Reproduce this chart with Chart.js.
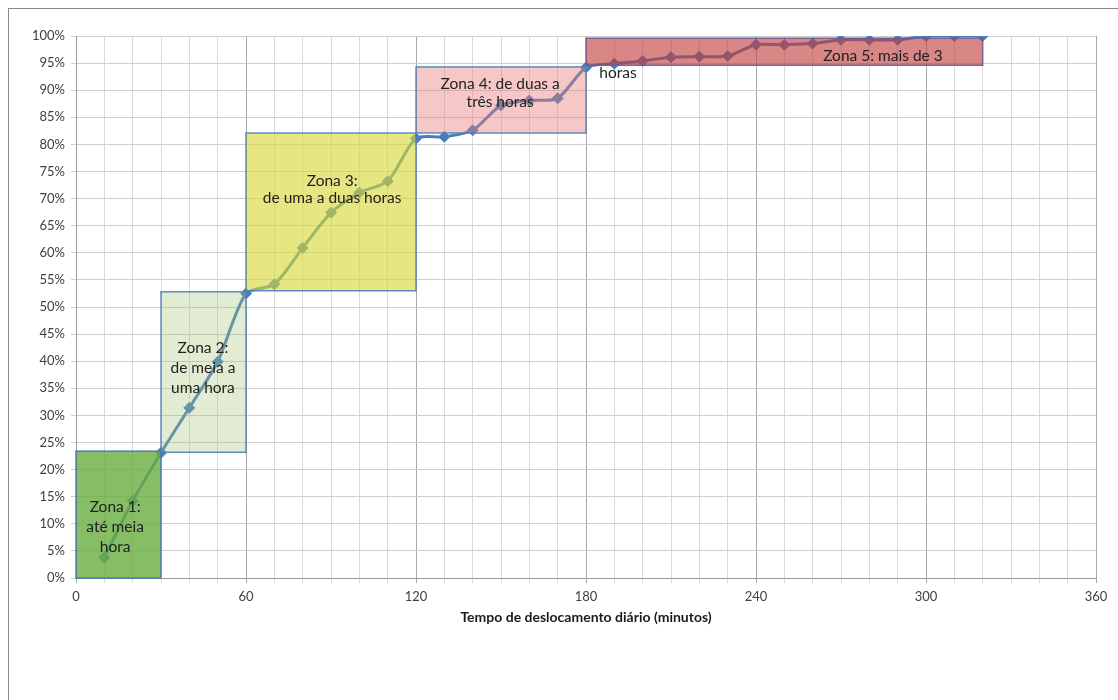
<!DOCTYPE html>
<html>
<head>
<meta charset="utf-8">
<script src="https://cdn.jsdelivr.net/npm/chart.js@4.4.1/dist/chart.umd.min.js"></script>
<style>
  html, body { margin: 0; padding: 0; background: #fff; }
  #wrap { position: relative; width: 1118px; height: 700px; overflow: hidden; }
  #frame { position: absolute; left: 8px; top: 8px; width: 1140px; height: 740px;
           border: 1.5px solid #8a8a8a; box-sizing: border-box; }
  #c { position: absolute; left: 0; top: 0; }
</style>
</head>
<body>
<div id="wrap">
  <div id="frame"></div>
  <canvas id="c" width="1118" height="700"></canvas>
</div>
<script>
// Daily commute time (minutes) and cumulative share of people (%)
const minutes = [10, 20, 30, 40, 50, 60, 70, 80, 90, 100, 110, 120, 130, 140, 150, 160,
                 170, 180, 190, 200, 210, 220, 230, 240, 250, 260, 270, 280, 290, 300, 310, 320];
const cumulativePct = [3.8, 14.2, 23.1, 31.4, 39.9, 52.5, 54.2, 60.9, 67.4, 71.1, 73.2, 81.1, 81.4, 82.6, 87.2, 88.1,
                       88.5, 94.2, 94.9, 95.4, 96.1, 96.2, 96.3, 98.4, 98.4, 98.6, 99.3, 99.3, 99.3, 100, 100, 100];

// Axis ticks
const xTickLabels = [0, 60, 120, 180, 240, 300, 360];
const yTickStep = 5;

// Zones: time range (minutes) and share range (%)
const zoneStart  = [0, 30, 60, 120, 180];
const zoneEnd    = [30, 60, 120, 180, 320];
const zoneBottom = [0, 23.2, 53.0, 82.1, 94.6];
const zoneTop    = [23.4, 52.8, 82.1, 94.3, 99.6];
const zoneText = [
  ['Zona 1:', 'até meia', 'hora'],
  ['Zona 2:', 'de meia a', 'uma hora'],
  ['Zona 3:', 'de uma a duas horas'],
  ['Zona 4: de duas a', 'três horas'],
  ['Zona 5: mais de 3']
];
const overflowText = 'horas';

// Drawing layout for the zones (anchors in axis units, styles)
const zoneLabelAt = [[13.8, 9.4], [44.8, 38.7], [90.4, 71.6], [149.7, 89.5], [284.8, 96.3]];
const overflowAt = [191.3, 93.2];
const zoneLineGap = [20, 20, 17, 18, 18];
const zoneFill = ['rgba(105,172,62,0.80)', 'rgba(165,195,115,0.32)', 'rgba(215,215,55,0.62)',
                  'rgba(232,122,122,0.42)', 'rgba(192,60,60,0.62)'];
const zoneEdge = ['rgba(70,120,185,0.95)', 'rgba(79,129,189,0.9)', 'rgba(79,129,189,0.9)',
                  'rgba(79,129,189,0.9)', 'rgba(110,90,150,0.9)'];

const zonesPlugin = {
  id: 'zones',
  afterDatasetsDraw(chart) {
    const { ctx, scales: { x, y } } = chart;
    ctx.save();
    zoneStart.forEach((s, i) => {
      const x0 = x.getPixelForValue(s), x1 = x.getPixelForValue(zoneEnd[i]);
      const y0 = y.getPixelForValue(zoneTop[i]), y1 = y.getPixelForValue(zoneBottom[i]);
      ctx.fillStyle = zoneFill[i];
      ctx.fillRect(x0, y0, x1 - x0, y1 - y0);
      ctx.strokeStyle = zoneEdge[i];
      ctx.lineWidth = 1.5;
      ctx.strokeRect(x0, y0, x1 - x0, y1 - y0);
    });
    ctx.fillStyle = '#222';
    ctx.font = '15.5px Lato';
    ctx.textAlign = 'center';
    ctx.textBaseline = 'middle';
    zoneText.forEach((lines, i) => {
      const cx = x.getPixelForValue(zoneLabelAt[i][0]);
      const cy = y.getPixelForValue(zoneLabelAt[i][1]);
      const gap = zoneLineGap[i];
      const first = cy - gap * (lines.length - 1) / 2;
      lines.forEach((t, k) => ctx.fillText(t, cx, first + k * gap));
    });
    ctx.fillText(overflowText, x.getPixelForValue(overflowAt[0]), y.getPixelForValue(overflowAt[1]));
    ctx.restore();
  }
};

const lineBlue = '#4a7ebb';

new Chart(document.getElementById('c'), {
  type: 'line',
  data: {
    datasets: [{
      data: minutes.map((m, i) => ({ x: m, y: cumulativePct[i] })),
      borderColor: lineBlue,
      backgroundColor: lineBlue,
      borderWidth: 3,
      pointStyle: 'rectRot',
      pointRadius: 5.5,
      pointBorderWidth: 1,
      pointBorderColor: lineBlue,
      tension: 0.25,
      fill: false
    }]
  },
  options: {
    responsive: false,
    animation: false,
    layout: { padding: { top: 36, right: 22, bottom: 66, left: 0 } },
    plugins: { legend: { display: false }, tooltip: { enabled: false } },
    scales: {
      x: {
        type: 'linear', min: 0, max: 360,
        ticks: {
          stepSize: 10, autoSkip: false, maxRotation: 0, padding: 6,
          callback: v => xTickLabels.includes(v) ? String(v) : '',
          font: { family: 'Lato', size: 13 }, color: '#404040'
        },
        grid: {
          color: c => (c.tick && xTickLabels.includes(c.tick.value)) ? '#a8a8a8' : '#dadada',
          tickLength: 5
        },
        border: { color: '#9a9a9a' },
        title: {
          display: true, text: 'Tempo de deslocamento diário (minutos)',
          font: { family: 'Lato', size: 14, weight: 'bold' }, color: '#1a1a1a',
          padding: { top: 0, bottom: 8 }
        },
        afterFit(s) { s.height = 56; }
      },
      y: {
        min: 0, max: 100,
        ticks: {
          stepSize: yTickStep, padding: 6,
          callback: v => v + '%',
          font: { family: 'Lato', size: 13 }, color: '#404040'
        },
        grid: { color: '#cfcfcf', tickLength: 5 },
        border: { color: '#9a9a9a' },
        afterFit(s) { s.width = 76; }
      }
    }
  },
  plugins: [zonesPlugin]
});
</script>
</body>
</html>
